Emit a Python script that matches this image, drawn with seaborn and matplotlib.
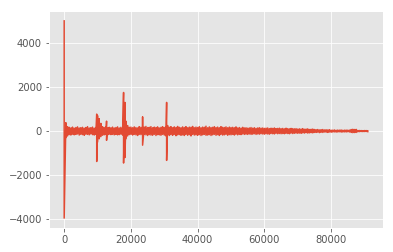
import numpy as np
import pandas as pd
import matplotlib
matplotlib.use("Agg")
import matplotlib.pyplot as plt
import seaborn as sns

plt.style.use("ggplot")

# Local max / min of the signal per 500-sample bin (x = 500, 1000, ..., 91000)
bin_step = 500
noise_hi = [
    380, 200, 170, 140, 180, 130, 160, 190, 140, 150,
    170, 130, 160, 200, 140, 150, 180, 130, 160, 700,
    560, 350, 200, 160, 190, 140, 170, 150, 180, 140,
    160, 190, 140, 170, 150, 300, 450, 250, 170, 180,
    150, 190, 160, 140, 200, 170, 150, 180, 210, 160,
    170, 200, 150, 180, 160, 190, 140, 170, 200, 160,
    180, 250, 170, 200, 150, 190, 160, 210, 170, 150,
    190, 160, 200, 150, 180, 170, 210, 150, 180, 160,
    200, 150, 180, 170, 220, 150, 190, 160, 170, 200,
    160, 180, 150, 200, 170, 160, 190, 150, 180, 160,
    170, 150, 190, 140, 160, 130, 170, 140, 150, 130,
    140, 160, 130, 150, 120, 140, 150, 130, 140, 120,
    130, 140, 110, 130, 120, 140, 110, 120, 130, 110,
    120, 100, 130, 110, 100, 120, 110, 100, 110, 90,
    100, 90, 110, 80, 90, 100, 70, 80, 90, 70,
    60, 70, 50, 60, 70, 50, 60, 50, 60, 40,
    40, 50, 35, 45, 40, 50, 35, 40, 45, 40,
    40, 70, 80, 70, 75, 30, 25, 25, 20, 25,
    25, 20,
]
noise_lo = [
    -300, -220, -160, -180, -140, -170, -150, -130, -180, -150,
    -160, -190, -140, -150, -170, -130, -160, -180, -150, -500,
    -350, -250, -190, -170, -150, -180, -140, -160, -150, -170,
    -150, -170, -160, -140, -180, -300, -350, -220, -160, -150,
    -180, -150, -170, -200, -150, -160, -190, -150, -170, -200,
    -160, -180, -190, -150, -200, -160, -170, -190, -150, -180,
    -220, -170, -200, -160, -190, -150, -210, -170, -160, -190,
    -170, -200, -150, -190, -160, -220, -150, -180, -170, -190,
    -160, -200, -170, -150, -190, -180, -160, -200, -170, -150,
    -190, -160, -200, -150, -180, -170, -150, -190, -160, -170,
    -150, -180, -140, -170, -150, -160, -130, -150, -140, -150,
    -130, -150, -140, -120, -150, -130, -140, -120, -130, -140,
    -120, -130, -140, -110, -120, -130, -100, -120, -110, -120,
    -110, -120, -100, -110, -120, -90, -110, -100, -90, -100,
    -90, -100, -80, -90, -70, -90, -80, -70, -80, -60,
    -60, -50, -70, -50, -60, -40, -50, -60, -40, -50,
    -40, -35, -45, -40, -30, -45, -40, -35, -40, -30,
    -40, -60, -70, -65, -60, -30, -25, -20, -25, -20,
    -20, -25,
]

# Isolated spikes
spike_x = [0, 9750, 12700, 17800, 18200, 23500, 30700]
spike_hi = [5000, 770, 450, 1750, 1300, 640, 1300]
spike_lo = [-3950, -1380, -420, -1450, -1200, -640, -1330]

noise_x = (np.arange(1, len(noise_hi) + 1) * bin_step).tolist()

bins = pd.DataFrame({
    "x": noise_x + spike_x,
    "hi": noise_hi + spike_hi,
    "lo": noise_lo + spike_lo,
}).sort_values("x", kind="stable").reset_index(drop=True)

xs, ys = [], []
for _, r in bins.iterrows():
    xs += [r["x"], r["x"]]
    ys += [r["hi"], r["lo"]]
df = pd.DataFrame({"sample": xs, "value": ys})

fig = plt.figure(figsize=(393 / 72, 252 / 72), dpi=72)
ax = fig.add_axes([49 / 393, 1 - 228 / 252, (383 - 49) / 393, (228 - 11) / 252])
sns.lineplot(data=df, x="sample", y="value", estimator=None, sort=False,
             color="#E24A33", linewidth=1.5, ax=ax)
ax.set_xlabel("")
ax.set_ylabel("")
ax.set_xticks([0, 20000, 40000, 60000, 80000])
ax.set_yticks([-4000, -2000, 0, 2000, 4000])
fig.savefig("out.png", dpi=72)
